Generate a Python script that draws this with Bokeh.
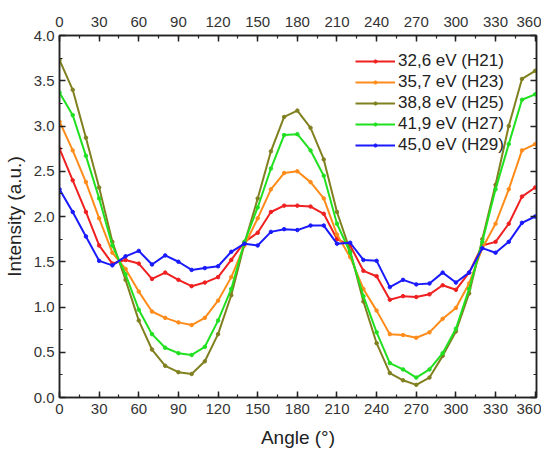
from bokeh.plotting import figure
from bokeh.models import (LinearAxis, SingleIntervalTicker, Range1d, Legend,
                          PrintfTickFormatter, CustomJSTickFormatter)
from bokeh.embed import file_html
from bokeh.resources import INLINE

angles = list(range(0, 361, 10))

h21 = [2.75, 2.40, 2.05, 1.68, 1.48, 1.52, 1.48, 1.31, 1.38, 1.30, 1.23, 1.27, 1.33,
       1.52, 1.72, 1.82, 2.05, 2.12, 2.12, 2.11, 2.03, 1.75, 1.68, 1.40, 1.34, 1.08,
       1.12, 1.11, 1.14, 1.24, 1.19, 1.38, 1.68, 1.72, 1.92, 2.22, 2.32]
h23 = [3.05, 2.73, 2.38, 1.98, 1.60, 1.42, 1.17, 0.95, 0.88, 0.83, 0.80, 0.88, 1.07,
       1.33, 1.68, 1.98, 2.30, 2.48, 2.50, 2.38, 2.20, 1.80, 1.55, 1.20, 0.96, 0.70,
       0.69, 0.66, 0.72, 0.87, 0.99, 1.26, 1.65, 1.92, 2.30, 2.73, 2.80]
h25 = [3.73, 3.40, 2.87, 2.32, 1.72, 1.30, 0.85, 0.53, 0.35, 0.28, 0.26, 0.40, 0.70,
       1.13, 1.70, 2.20, 2.72, 3.10, 3.17, 2.98, 2.63, 2.05, 1.62, 1.06, 0.60, 0.27,
       0.19, 0.14, 0.22, 0.46, 0.73, 1.15, 1.75, 2.35, 3.00, 3.52, 3.61]
h27 = [3.37, 3.12, 2.67, 2.20, 1.68, 1.36, 0.97, 0.70, 0.55, 0.49, 0.47, 0.56, 0.85,
       1.20, 1.72, 2.10, 2.53, 2.90, 2.91, 2.73, 2.45, 1.92, 1.60, 1.12, 0.72, 0.38,
       0.31, 0.22, 0.31, 0.49, 0.76, 1.20, 1.72, 2.30, 2.80, 3.29, 3.35]
h29 = [2.30, 2.05, 1.78, 1.51, 1.46, 1.56, 1.62, 1.47, 1.57, 1.50, 1.41, 1.43, 1.45,
       1.61, 1.70, 1.68, 1.83, 1.86, 1.85, 1.90, 1.90, 1.70, 1.71, 1.52, 1.51, 1.22,
       1.30, 1.25, 1.26, 1.38, 1.27, 1.38, 1.65, 1.60, 1.72, 1.93, 2.00]

labels = ["32,6 eV (H21)", "35,7 eV (H23)", "38,8 eV (H25)", "41,9 eV (H27)", "45,0 eV (H29)"]
colors = ["#f02020", "#ff8c1a", "#808020", "#20e020", "#1a1aff"]
series = [h21, h23, h25, h27, h29]

font = "Liberation Sans"

p = figure(width=541, height=450, output_backend="svg", toolbar_location=None,
           x_range=Range1d(0, 361), y_range=Range1d(0, 4),
           min_border_left=54, min_border_right=5, min_border_top=35, min_border_bottom=47)
p.xgrid.visible = False
p.ygrid.visible = False
p.outline_line_color = "#222222"
p.outline_line_width = 1.5
p.background_fill_color = "white"

items = []
for lab, col, ys in zip(labels, colors, series):
    r1 = p.line(angles, ys, line_color=col, line_width=2)
    r2 = p.scatter(angles, ys, size=3.5, color=col)
    items.append((lab, [r1, r2]))

legend = Legend(items=items, location=(292, 238), border_line_alpha=0,
                background_fill_alpha=0, glyph_width=40, glyph_height=8,
                label_height=21, label_text_baseline="middle",
                label_text_font=font, label_text_font_size="17px",
                label_text_color="#222222", spacing=0, padding=4, margin=0,
                label_standoff=3)
p.add_layout(legend)

def style(ax, standoff=5):
    ax.axis_line_color = "#222222"
    ax.axis_line_width = 1.5
    ax.major_tick_line_color = "#222222"
    ax.minor_tick_line_color = "#222222"
    ax.major_tick_line_width = 1.5
    ax.minor_tick_line_width = 1.2
    ax.major_tick_in = 6
    ax.major_tick_out = 0
    ax.minor_tick_in = 3
    ax.minor_tick_out = 0
    ax.major_label_text_font = font
    ax.major_label_text_font_size = "15px"
    ax.major_label_text_color = "#333333"
    ax.major_label_standoff = standoff
    ax.axis_label_text_font = font
    ax.axis_label_text_font_size = "19px"
    ax.axis_label_text_font_style = "normal"
    ax.axis_label_text_color = "#222222"
    ax.axis_label_standoff = 6

xt = SingleIntervalTicker(interval=30, num_minor_ticks=2)
yt = SingleIntervalTicker(interval=0.5, num_minor_ticks=2)

p.xaxis.ticker = xt
p.yaxis.ticker = yt
p.xaxis.axis_label = "Angle (°)"
p.yaxis.axis_label = "Intensity (a.u.)"
for a in p.xaxis:
    style(a, standoff=6)
    a.axis_label_standoff = 10
for a in p.yaxis:
    style(a)
p.yaxis.formatter = PrintfTickFormatter(format="%.1f")

top = LinearAxis(ticker=SingleIntervalTicker(interval=30, num_minor_ticks=2))
style(top, standoff=9)
p.add_layout(top, "above")

right = LinearAxis(ticker=SingleIntervalTicker(interval=0.5, num_minor_ticks=2),
                   formatter=CustomJSTickFormatter(code="return '';"))
style(right)
p.add_layout(right, "right")

open("out.html", "w").write(file_html(p, INLINE))
